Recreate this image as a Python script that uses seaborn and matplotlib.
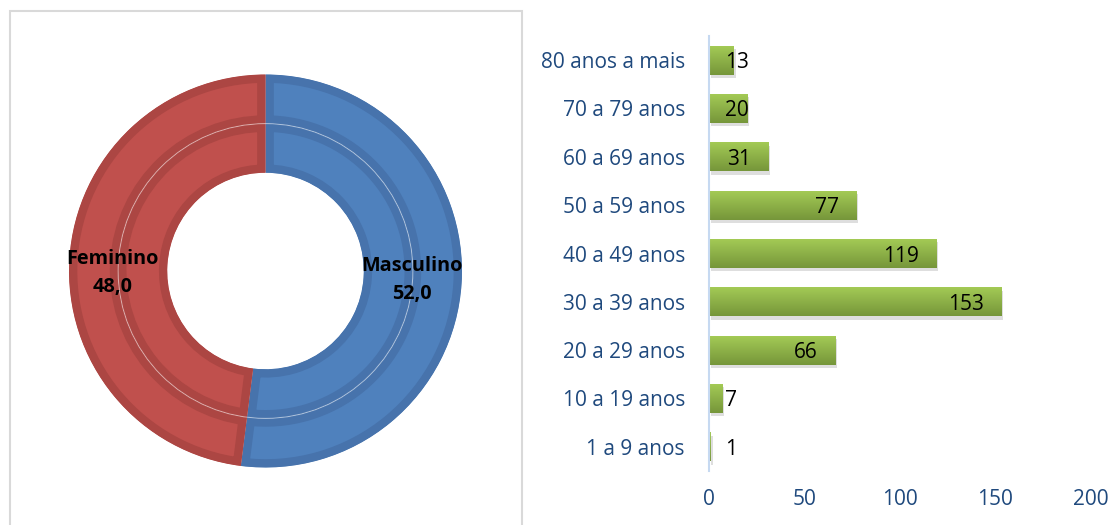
import numpy as np
import matplotlib
matplotlib.use("Agg")
import matplotlib.pyplot as plt
import seaborn as sns
from matplotlib.patches import Rectangle, Circle
from matplotlib.colors import LinearSegmentedColormap

# data
sexo = ["Masculino", "Feminino"]
sexo_pct = [52.0, 48.0]

faixas = ["80 anos a mais", "70 a 79 anos", "60 a 69 anos", "50 a 59 anos",
          "40 a 49 anos", "30 a 39 anos", "20 a 29 anos", "10 a 19 anos",
          "1 a 9 anos"]
casos = [13, 20, 31, 77, 119, 153, 66, 7, 1]
x_ticks = [0, 50, 100, 150, 200]

sns.set_theme(style="white")
plt.rcParams['font.family'] = ['Open Sans', 'DejaVu Sans']

W, H = 1113, 525
fig = plt.figure(figsize=(W / 100, H / 100), dpi=100)

# light grey frame around the donut
fig.patches.append(Rectangle((10 / W, -0.05), 512 / W, (525 - 11) / H + 0.05,
                             transform=fig.transFigure, fill=False,
                             edgecolor="#D9D9D9", lw=1.5))

############################################################
# donut (two rings, same split)

fills = ["#4F81BD", "#C0504D"]
borders = ["#4773AC", "#AC4643"]

cx, cy, R = 265.5, 254, 196.5
half = 215
ax1 = fig.add_axes([(cx - half) / W, (cy - half) / H, 2 * half / W, 2 * half / H])

for radius in [1.0, 0.75]:
    wedges, _ = ax1.pie(sexo_pct, colors=fills, radius=radius, startangle=90,
                        counterclock=False,
                        wedgeprops=dict(width=0.25, linewidth=12))
    for w, ec in zip(wedges, borders):
        w.set_edgecolor(ec)
        w.set_clip_on(True)
        w.set_clip_path(w)

ax1.add_patch(Circle((0, 0), 0.75, fill=False, edgecolor="white", lw=0.7, alpha=0.5))

lim = half / R
ax1.set_xlim(-lim, lim)
ax1.set_ylim(-lim, lim)
ax1.axis('off')

label_pos = {"Masculino": (0.745, -0.045), "Feminino": (-0.779, -0.01)}
for nome, pct in zip(sexo, sexo_pct):
    x, y = label_pos[nome]
    ax1.text(x, y, f"{nome}\n{pct:.1f}".replace(".", ","), ha='center', va='center',
             fontsize=14.3, fontweight='bold', color='black', linespacing=1.5)

############################################################
# horizontal bars

ax2 = fig.add_axes([708.5 / W, (525 - 471) / H, 382.5 / W, 435 / H])
sns.barplot(x=casos, y=faixas, orient='h', color='#9BBB59', width=0.6, ax=ax2)

cmap = LinearSegmentedColormap.from_list("verde", ["#A3CA55", "#76963A"])
grad = np.linspace(0, 1, 64).reshape(-1, 1)
for p in ax2.patches:
    x0, y0, w, h = p.get_x(), p.get_y(), p.get_width(), p.get_height()
    ax2.add_patch(Rectangle((x0 + 1.2, y0 + 0.07), w, h, facecolor='#7F7F7F',
                            alpha=0.25, edgecolor='none', zorder=1))
    im = ax2.imshow(grad, extent=[x0, x0 + w, y0 + h, y0], aspect='auto',
                    cmap=cmap, zorder=2)
    im.set_clip_path(p)
    p.set_facecolor('none')
    p.set_edgecolor('none')

ax2.set_xlim(0, 200)
ax2.set_ylim(len(faixas) - 0.5, -0.5)
ax2.set_xticks(x_ticks)
ax2.set_xlabel('')
ax2.set_ylabel('')
for s in ['top', 'right', 'bottom']:
    ax2.spines[s].set_visible(False)
ax2.spines['left'].set_color('#C6D9F1')
ax2.spines['left'].set_linewidth(1.5)
ax2.spines['left'].set_zorder(5)
ax2.tick_params(axis='x', length=0, pad=13, labelsize=15, labelcolor='#1F497D')
ax2.tick_params(axis='y', length=0, pad=17, labelsize=15, labelcolor='#1F497D')

# value labels: inside the bar end, pushed right when the bar is short
renderer = fig.canvas.get_renderer()
px_per_unit = 382.5 / 200
for i, v in enumerate(casos):
    t = ax2.text(0, i, str(v), ha='left', va='center_baseline', fontsize=15,
                 color='black', zorder=6)
    w_units = t.get_window_extent(renderer).width / px_per_unit
    t.set_x(max(v - 8.9 - w_units, 8.6))

fig.savefig("out.png", dpi=100)
